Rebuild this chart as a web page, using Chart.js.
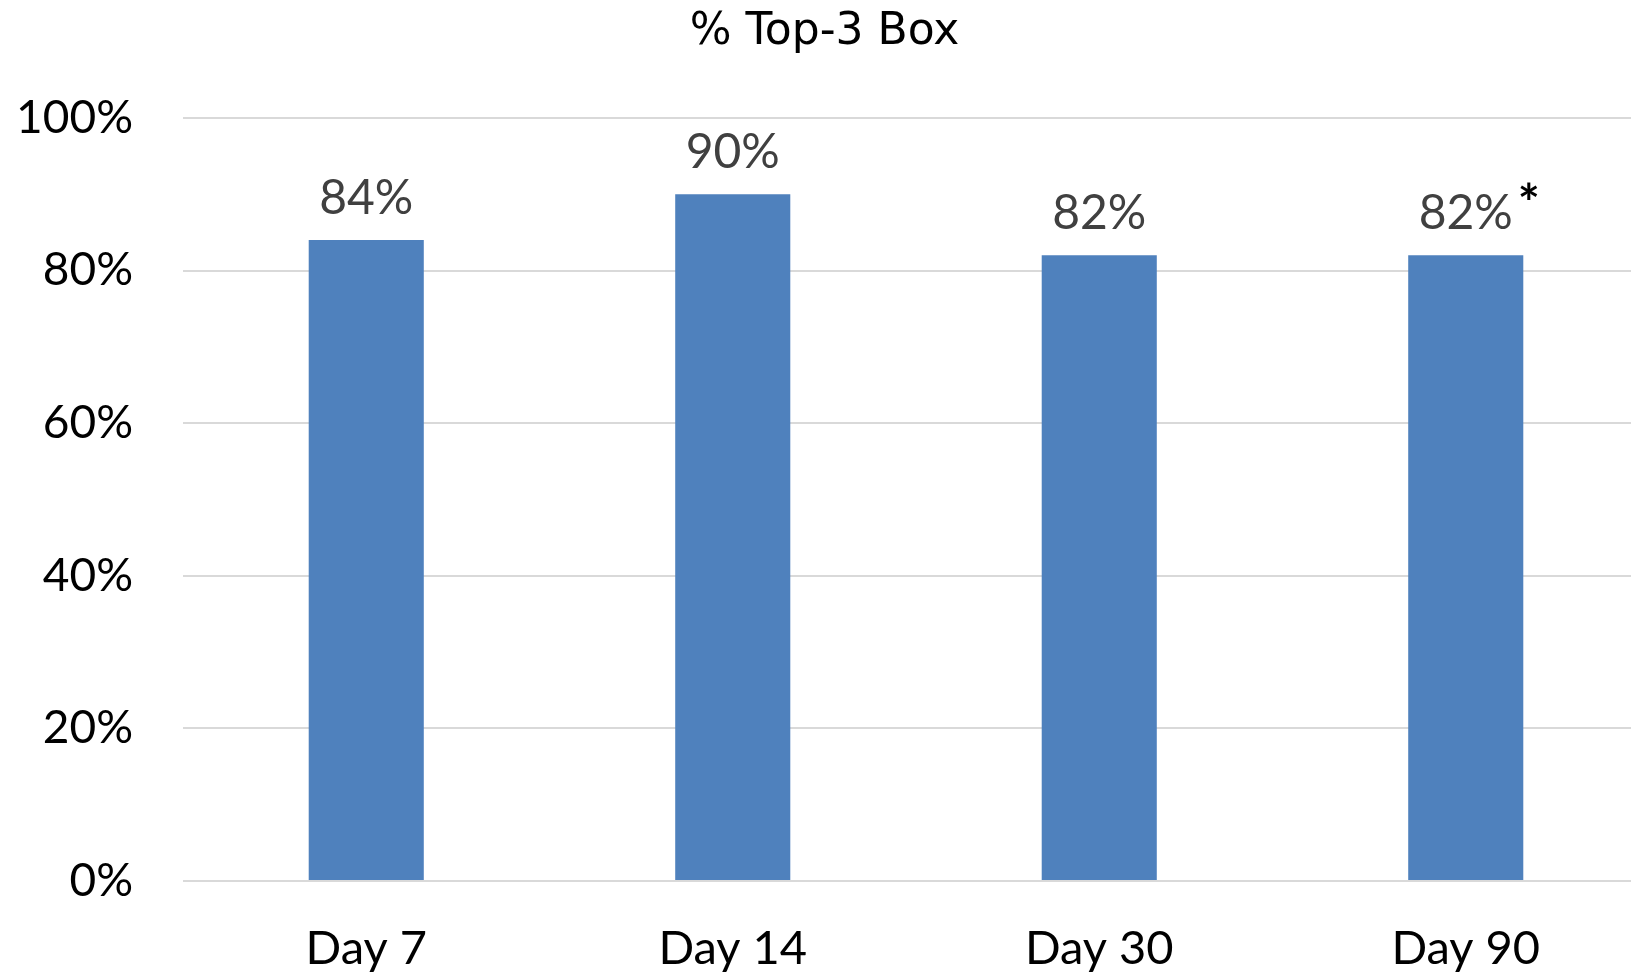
<!DOCTYPE html>
<html>
<head>
<meta charset="utf-8">
<script src="https://cdn.jsdelivr.net/npm/chart.js@4.4.1/dist/chart.umd.min.js"></script>
<style>
  html, body { margin: 0; padding: 0; background: #fff; }
  #wrap { width: 1631px; height: 976px; overflow: hidden; position: relative; }
  #wrap canvas { position: absolute; left: 0; top: 0; }
</style>
</head>
<body>
<div id="wrap">
  <canvas id="bar-chart" width="1672" height="976" style="width:1672px;height:976px"></canvas>
</div>
<script>
var categories = ["Day 7", "Day 14", "Day 30", "Day 90"];
var topBoxValues = [84, 90, 82, 82];
var valueNotes = ["", "", "", "*"];
var yTickLabels = ["0%", "20%", "40%", "60%", "80%", "100%"];

// value labels above bars, plus the footnote mark
var barLabels = {
  id: "barLabels",
  afterDatasetsDraw: function (chart) {
    var ctx = chart.ctx;
    var meta = chart.getDatasetMeta(0);
    ctx.save();
    meta.data.forEach(function (bar, i) {
      var txt = topBoxValues[i] + "%";
      ctx.font = "48px Lato";
      ctx.fillStyle = "#404040";
      ctx.textAlign = "center";
      ctx.textBaseline = "alphabetic";
      ctx.fillText(txt, bar.x, bar.y - 26);
      if (valueNotes[i]) {
        var w = ctx.measureText(txt).width;
        ctx.font = "bold 52px Lato";
        ctx.fillStyle = "#000";
        ctx.textAlign = "left";
        ctx.fillText(valueNotes[i], bar.x + w / 2 + 5, bar.y - 33);
      }
    });
    ctx.restore();
  },
};

var ctx = document.getElementById("bar-chart").getContext("2d");
new Chart(ctx, {
  type: "bar",
  data: {
    labels: categories,
    datasets: [
      {
        label: "% Top-3 Box",
        data: topBoxValues,
        backgroundColor: "#4f81bd",
        borderWidth: 0,
        barPercentage: 0.314,
        categoryPercentage: 1,
      },
    ],
  },
  options: {
    responsive: false,
    animation: false,
    devicePixelRatio: 1,
    layout: {
      padding: { left: 0, right: 23, top: 0, bottom: 0 },
    },
    plugins: {
      legend: { display: false },
      tooltip: { enabled: false },
      title: {
        display: true,
        text: "% Top-3 Box",
        color: "#000",
        font: { family: "DejaVu Sans", size: 44, weight: "normal", lineHeight: 1.2 },
        padding: { top: 6, bottom: 59.2 },
      },
    },
    scales: {
      x: {
        afterFit: function (scale) {
          scale.height = 95;
        },
        grid: { display: false, drawTicks: false },
        border: { display: false },
        ticks: {
          color: "#000",
          padding: 40,
          font: { family: "Lato", size: 47, lineHeight: 1.2 },
        },
      },
      y: {
        min: 0,
        max: 100,
        afterFit: function (scale) {
          scale.width = 183;
        },
        grid: { color: "#d9d9d9", lineWidth: 2, drawTicks: false },
        border: { display: false },
        ticks: {
          stepSize: 20,
          color: "#000",
          padding: 50,
          font: { family: "Lato", size: 46, lineHeight: 1.2 },
          callback: function (value, index) {
            return yTickLabels[index];
          },
        },
      },
    },
  },
  plugins: [barLabels],
});
</script>
</body>
</html>
